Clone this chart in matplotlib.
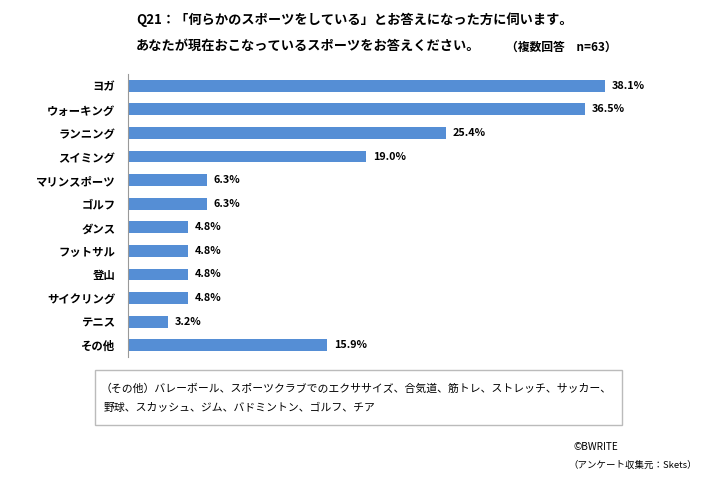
import matplotlib.pyplot as plt
from matplotlib.patches import Rectangle

plt.rcParams['font.family'] = ['Noto Sans CJK JP', 'DejaVu Sans']

# データ
categories = ['ヨガ', 'ウォーキング', 'ランニング', 'スイミング', 'マリンスポーツ', 'ゴルフ',
              'ダンス', 'フットサル', '登山', 'サイクリング', 'テニス', 'その他']
values = [38.1, 36.5, 25.4, 19.0, 6.3, 6.3, 4.8, 4.8, 4.8, 4.8, 3.2, 15.9]

W, H = 707, 479
fig = plt.figure(figsize=(W / 100, H / 100), dpi=100)
ax = fig.add_axes([128 / W, 1 - 357 / H, 563 / W, 283 / H])

ypos = list(range(len(categories)))
ax.barh(ypos, values, height=0.5, color='#558ED5')
ax.set_ylim(len(categories) - 0.5, -0.5)
ax.set_xlim(0, 45)
ax.set_yticks(ypos)
ax.set_yticklabels(categories, fontsize=8.2, fontweight='bold')
ax.tick_params(axis='y', length=0, pad=9)
ax.set_xticks([])
for s in ['top', 'right', 'bottom']:
    ax.spines[s].set_visible(False)
ax.spines['left'].set_color('#999999')

for y, v in zip(ypos, values):
    ax.annotate(f'{v:.1f}%', (v, y), xytext=(5, 0), textcoords='offset points',
                va='center', ha='left', fontsize=7.8, fontweight='bold')

# タイトル
fig.text(136 / W, 1 - 20 / H, 'Q21：「何らかのスポーツをしている」とお答えになった方に伺います。',
         fontsize=9.5, fontweight='bold', va='center')
fig.text(136 / W, 1 - 46 / H, 'あなたが現在おこなっているスポーツをお答えください。',
         fontsize=9.5, fontweight='bold', va='center')
fig.text(506 / W, 1 - 47 / H, '（複数回答　n=63）', fontsize=8.5, fontweight='bold', va='center')

# その他の枠
fig.patches.append(Rectangle((95 / W, 1 - 425 / H), 527 / W, 55 / H,
                             transform=fig.transFigure, fill=False,
                             edgecolor='#bbbbbb', linewidth=1))
fig.text(100 / W, 1 - 389 / H,
         '（その他）バレーボール、スポーツクラブでのエクササイズ、合気道、筋トレ、ストレッチ、サッカー、',
         fontsize=7.8, va='center')
fig.text(104 / W, 1 - 408 / H, '野球、スカッシュ、ジム、バドミントン、ゴルフ、チア',
         fontsize=7.8, va='center')

fig.text(573 / W, 1 - 447 / H, '©BWRITE', fontsize=7.2, va='center')
fig.text(697 / W, 1 - 465 / H, '（アンケート収集元：Skets）', fontsize=6.8, va='center', ha='right')

fig.savefig('out.png', dpi=100)
